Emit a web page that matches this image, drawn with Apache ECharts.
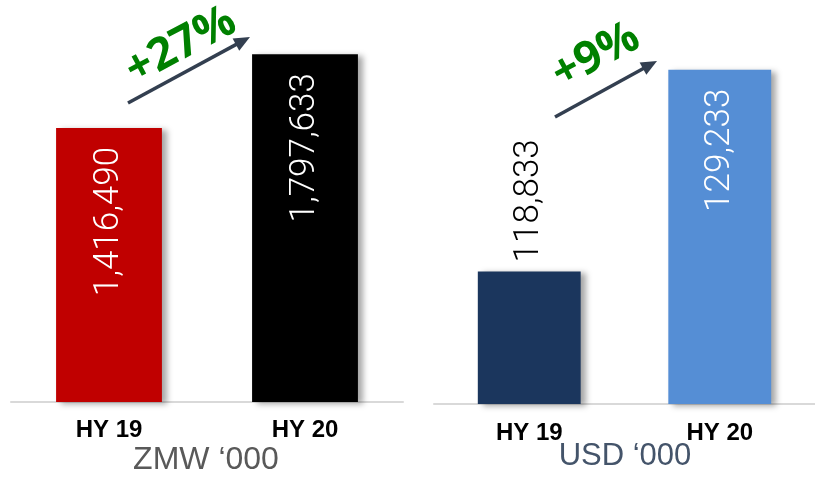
<!DOCTYPE html>
<html><head><meta charset="utf-8">
<script src="https://cdn.jsdelivr.net/npm/echarts@6/dist/echarts.min.js"></script>
<style>html,body{margin:0;padding:0;background:#fff}#c{width:815px;height:478px}</style>
</head><body><div id="c"></div>
<script>
const categories = ['HY 19', 'HY 20'];
const zmwValues = [1416490, 1797633];
const usdValues = [118833, 129233];
const zmwColors = ['#C00000', '#000000'];
const usdColors = ['#1B365D', '#558ED5'];
const unitTitles = ['ZMW \u2018000', 'USD \u2018000'];
const growthLabels = ['+27%', '+9%'];

function fmt(v){ return String(v).replace(/\B(?=(\d{3})+(?!\d))/g, ','); }

const valueFont = { fontFamily: 'Roboto, "Liberation Sans", Arial, sans-serif', fontWeight: 300, fontSize: 35 };
const shadow = { shadowColor: 'rgba(0,0,0,0.35)', shadowBlur: 6, shadowOffsetX: 5, shadowOffsetY: 2 };

function insideLabel(color){
  return Object.assign({ show: true, position: 'insideTop', rotate: 90, align: 'right', verticalAlign: 'middle', distance: 19, color: color, formatter: p => fmt(p.value) }, valueFont);
}
function topLabel(color){
  return Object.assign({ show: true, position: 'top', rotate: 90, align: 'left', verticalAlign: 'middle', distance: 9, color: color, formatter: p => fmt(p.value) }, valueFont);
}

const xAxisCommon = {
  type: 'category', data: categories,
  axisTick: { show: false },
  axisLine: { lineStyle: { color: '#d9d9d9', width: 2 } },
  axisLabel: { color: '#000', fontWeight: 'bold', fontSize: 24, fontFamily: '"Liberation Sans", Arial, sans-serif', margin: 16 }
};

function arrow(x1, y1, x2, y2){
  const ang = Math.atan2(y2 - y1, x2 - x1);
  const L = 16, W = 7;
  const bx = x2 - L * Math.cos(ang), by = y2 - L * Math.sin(ang);
  const px = -Math.sin(ang), py = Math.cos(ang);
  return [
    { type: 'line', shape: { x1: x1, y1: y1, x2: bx + 2*Math.cos(ang), y2: by + 2*Math.sin(ang) }, style: { stroke: '#333F50', lineWidth: 3.5 } },
    { type: 'polygon', shape: { points: [[x2, y2], [bx + W*px, by + W*py], [bx - W*px, by - W*py]] }, style: { fill: '#333F50' } }
  ];
}

const chart = echarts.init(document.getElementById('c'));
chart.setOption({
  animation: false,
  grid: [
    { left: 11, width: 392, top: 15, bottom: 76 },
    { left: 434, width: 386, top: 16, bottom: 74 }
  ],
  xAxis: [
    Object.assign({ gridIndex: 0 }, xAxisCommon),
    Object.assign({ gridIndex: 1 }, xAxisCommon, { axisLabel: Object.assign({}, xAxisCommon.axisLabel, { margin: 17 }) })
  ],
  yAxis: [
    { gridIndex: 0, type: 'value', min: 0, max: 2000000, show: false, splitLine: { show: false } },
    { gridIndex: 1, type: 'value', min: 112000, max: 132000, show: false, splitLine: { show: false } }
  ],
  series: [
    { type: 'bar', xAxisIndex: 0, yAxisIndex: 0, barWidth: '54%',
      data: zmwValues.map((v, i) => ({ value: v, itemStyle: Object.assign({ color: zmwColors[i] }, shadow), label: insideLabel('#fff') })) },
    { type: 'bar', xAxisIndex: 1, yAxisIndex: 1, barWidth: '54%',
      data: usdValues.map((v, i) => ({ value: v, itemStyle: Object.assign({ color: usdColors[i] }, shadow), label: i === 0 ? topLabel('#000') : insideLabel('#fff') })) }
  ],
  graphic: [
    { type: 'text', x: 206, y: 460, style: { text: unitTitles[0], fill: '#595959', font: '32px "Liberation Sans", Arial, sans-serif', textAlign: 'center', textVerticalAlign: 'middle' } },
    { type: 'text', x: 625, y: 456, style: { text: unitTitles[1], fill: '#44546A', font: '31px "Liberation Sans", Arial, sans-serif', textAlign: 'center', textVerticalAlign: 'middle' } },
    ...arrow(128, 103, 250, 37),
    ...arrow(555, 117, 657, 61),
    { type: 'text', x: 181, y: 46, rotation: 28 * Math.PI / 180, style: { text: growthLabels[0], fill: '#008000', font: 'bold 45px "Open Sans", "Liberation Sans", sans-serif', textAlign: 'center', textVerticalAlign: 'middle' } },
    { type: 'text', x: 596, y: 56, rotation: 28 * Math.PI / 180, style: { text: growthLabels[1], fill: '#008000', font: 'bold 45px "Open Sans", "Liberation Sans", sans-serif', textAlign: 'center', textVerticalAlign: 'middle' } }
  ]
});
</script></body></html>
